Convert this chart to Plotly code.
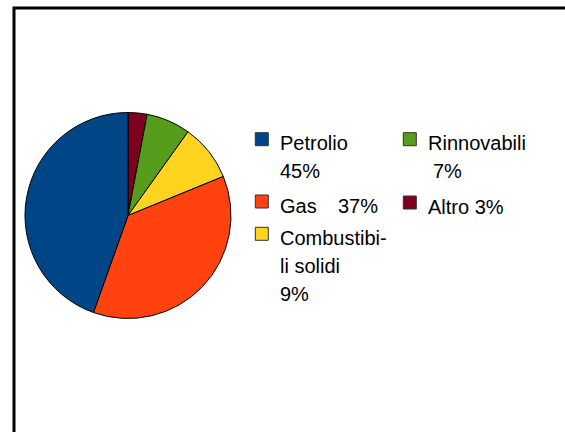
import plotly.graph_objects as go

# Energy mix shares (%)
labels = ["Petrolio", "Gas", "Combustibili solidi", "Rinnovabili", "Altro"]
values = [45, 37, 9, 7, 3]
colors = ["#004586", "#ff420e", "#ffd320", "#579d1c", "#7e0021"]

# Legend text, wrapped as it is printed next to each swatch
name_lines = [["Petrolio"], ["Gas"], ["Combustibi-", "li solidi"], ["Rinnovabili"], ["Altro"]]

W, H = 565, 432
FONT = dict(family="Liberation Sans, Arial, sans-serif", size=20, color="#000000")


def px(x):
    return x / W


def py(y):
    return 1 - y / H


fig = go.Figure()

# pie: center (128, 215.5) px, radius 103 px; slices run counterclockwise
# from 12 o'clock, so feed them reversed and draw clockwise
cx, cy, r = 128, 215.5, 103
fig.add_trace(go.Pie(
    labels=labels[::-1],
    values=values[::-1],
    marker=dict(colors=colors[::-1], line=dict(color="#000000", width=1)),
    sort=False,
    direction="clockwise",
    rotation=0,
    textinfo="none",
    hoverinfo="label+percent",
    showlegend=False,
    domain=dict(x=[px(cx - r), px(cx + r)], y=[py(cy + r), py(cy - r)]),
))

# legend layout: swatch top-left corner for each entry
swatch_pos = [(255.3, 132.7), (255.3, 195.0), (255.3, 227.3), (403.3, 132.7), (403.3, 196.0)]
SW = 13
LINE = 28
TEXT_DX = 24

shapes = []
annotations = []


def add_text(x, baseline, text):
    annotations.append(dict(
        x=px(x), y=py(baseline - 7), xref="paper", yref="paper",
        xanchor="left", yanchor="middle", text=text, showarrow=False,
        font=FONT, borderpad=0,
    ))


for i, (lab, val, col) in enumerate(zip(labels, values, colors)):
    sx, sy = swatch_pos[i]
    shapes.append(dict(
        type="rect", xref="paper", yref="paper",
        x0=px(sx), x1=px(sx + SW), y0=py(sy + SW), y1=py(sy),
        fillcolor=col, line=dict(color="#333333", width=1),
    ))
    tx = sx + TEXT_DX
    base = sy + 17.5
    lines = name_lines[i]
    for k, t in enumerate(lines):
        add_text(tx, base + k * LINE, t)
    pct = f"{val}%"
    if lab == "Gas":
        add_text(337, base, pct)
    elif lab == "Altro":
        annotations[-1]["text"] = f"{lines[-1]} {pct}"
    elif lab == "Rinnovabili":
        add_text(tx + 5, base + len(lines) * LINE, pct)
    else:
        add_text(tx, base + len(lines) * LINE, pct)

# outer frame (only top and left edges fall inside the canvas)
shapes.append(dict(
    type="rect", xref="paper", yref="paper",
    x0=px(14), x1=px(W + 20), y0=py(H + 20), y1=py(8),
    line=dict(color="#000000", width=3), fillcolor="rgba(0,0,0,0)",
))

fig.update_layout(
    width=W, height=H,
    margin=dict(l=0, r=0, t=0, b=0),
    paper_bgcolor="#ffffff",
    plot_bgcolor="#ffffff",
    shapes=shapes,
    annotations=annotations,
    font=FONT,
)

fig.write_html("out.html", include_plotlyjs=True, full_html=True,
               config={"displayModeBar": False})
